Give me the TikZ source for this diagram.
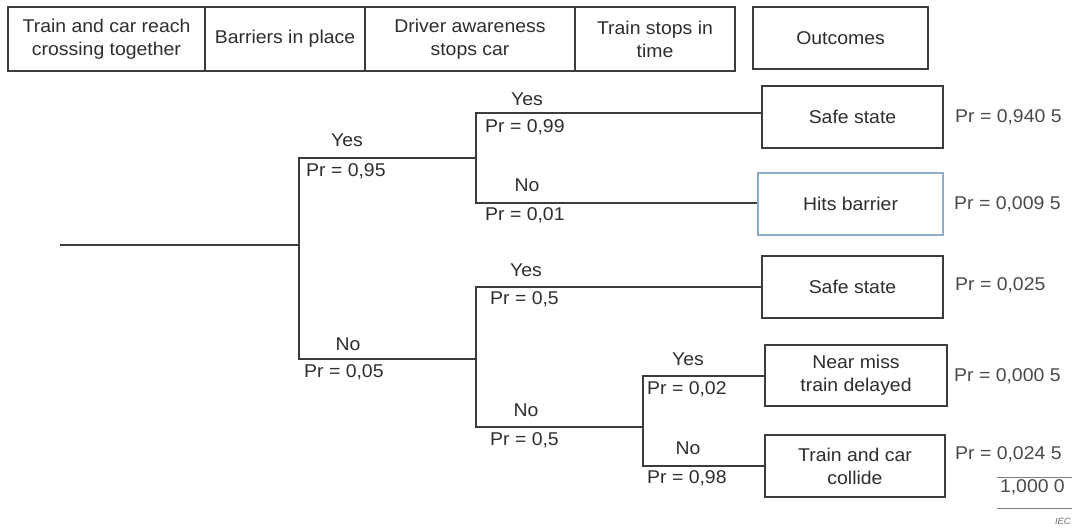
\documentclass[tikz,border=0pt]{standalone}
\usepackage{fontspec}
\setmainfont{Liberation Sans}[FakeStretch=1.05]
\definecolor{txt}{HTML}{2E2E2E}
\definecolor{lbl}{HTML}{4A4A4A}
\definecolor{ln}{HTML}{3C3C3C}
\definecolor{blueb}{HTML}{92AACB}
\tikzset{
  fnt/.style={font=\fontsize{18.5}{23}\selectfont},
  hbox/.style={draw=ln, line width=1.3pt, inner sep=0pt, fnt, text=txt, align=center, anchor=center},
  obox/.style={draw=ln, line width=1.3pt, inner sep=0pt, fnt, text=txt, align=center, anchor=center},
  branch/.style={draw=ln, line width=2pt},
  yn/.style={fnt, text=txt, inner sep=0pt, text height=0.716em, text depth=0pt, anchor=center},
  prl/.style={fnt, text=txt, inner sep=0pt, text height=0.716em, text depth=0pt, anchor=west},
  prr/.style={fnt, text=lbl, inner sep=0pt, text height=0.716em, text depth=0pt, anchor=west},
  sumline/.style={draw=lbl!70, line width=0.8pt}
}
\begin{document}
\begin{tikzpicture}[x=1pt,y=-1pt]
\useasboundingbox[fill=white] (0,0) rectangle (1083,530);

% header
\node[hbox, minimum width=197pt, minimum height=64pt] (h1) at (106.5,39) {Train and car reach\\crossing together};
\node[hbox, minimum width=160pt, minimum height=64pt] (h2) at (285,39) {Barriers in place};
\node[hbox, minimum width=210pt, minimum height=64pt] (h3) at (470,39) {Driver awareness\\stops car};
\node[hbox, minimum width=160pt, minimum height=64pt] (h4) at (655,39) {Train stops in\\time};
\node[hbox, minimum width=175pt, minimum height=62pt] (h5) at (840.5,38) {Outcomes};

% outcome boxes
\node[obox, minimum width=181pt, minimum height=62pt] (o1) at (852.5,117) {Safe state};
\node[obox, draw=blueb, minimum width=185pt, minimum height=62pt] (o2) at (850.5,204) {Hits barrier};
\node[obox, minimum width=181pt, minimum height=62pt] (o3) at (852.5,287) {Safe state};
\node[obox, minimum width=182pt, minimum height=61pt] (o4) at (856,375.5) {Near miss\\train delayed};
\node[obox, minimum width=180pt, minimum height=62pt] (o5) at (855,466) {Train and car\\collide};

% tree coordinates
\coordinate (r0) at (60,245);
\coordinate (b1) at (299,245);
\coordinate (b1y) at (299,158);
\coordinate (b1n) at (299,359);
\coordinate (b2) at (476,158);
\coordinate (b2y) at (476,113);
\coordinate (b2n) at (476,203);
\coordinate (b3) at (476,359);
\coordinate (b3y) at (476,287);
\coordinate (b3n) at (476,427);
\coordinate (b4) at (643,427);
\coordinate (b4y) at (643,376);
\coordinate (b4n) at (643,466);

\draw[branch] (r0) -- (b1);
\draw[branch] (b2) -- (b1y) -- (b1n) -- (b3);
\draw[branch] (b2y -| o1.west) -- (b2y) -- (b2n) -- (b2n -| o2.west);
\draw[branch] (b3y -| o3.west) -- (b3y) -- (b3n) -- (b4);
\draw[branch] (b4y -| o4.west) -- (b4y) -- (b4n) -- (b4n -| o5.west);

% branch labels
\node[yn] (l1) at (347,143) {Yes};
\node[prl] (l2) at (306,173) {Pr = 0,95};
\node[yn] (l3) at (348,347) {No};
\node[prl] (l4) at (304,374) {Pr = 0,05};
\node[yn] (l5) at (527,102) {Yes};
\node[prl] (l6) at (485,129) {Pr = 0,99};
\node[yn] (l7) at (527,188) {No};
\node[prl] (l8) at (485,217) {Pr = 0,01};
\node[yn] (l9) at (526,273) {Yes};
\node[prl] (l10) at (490,301) {Pr = 0,5};
\node[yn] (l11) at (526,413) {No};
\node[prl] (l12) at (490,442) {Pr = 0,5};
\node[yn] (l13) at (688,362) {Yes};
\node[prl] (l14) at (647,391) {Pr = 0,02};
\node[yn] (l15) at (688,451) {No};
\node[prl] (l16) at (647,480) {Pr = 0,98};

% outcome probabilities
\node[prr] (p1) at (955,119) {Pr = 0,940 5};
\node[prr] (p2) at (954,206) {Pr = 0,009 5};
\node[prr] (p3) at (955,287) {Pr = 0,025};
\node[prr] (p4) at (954,378) {Pr = 0,000 5};
\node[prr] (p5) at (955,456) {Pr = 0,024 5};
\node[prr, anchor=east] (tot) at (1065,489) {1,000 0};
\coordinate (s1a) at (997,477);
\coordinate (s1b) at (1072,477);
\coordinate (s2a) at (997,508);
\coordinate (s2b) at (1072,508);
\draw[sumline] (s1a) -- (s1b);
\draw[sumline] (s2a) -- (s2b);
\node[anchor=east, inner sep=0pt, text=lbl!80, font=\fontsize{9}{10}\selectfont\itshape] (iec) at (1071,521) {IEC};
\end{tikzpicture}
\end{document}
